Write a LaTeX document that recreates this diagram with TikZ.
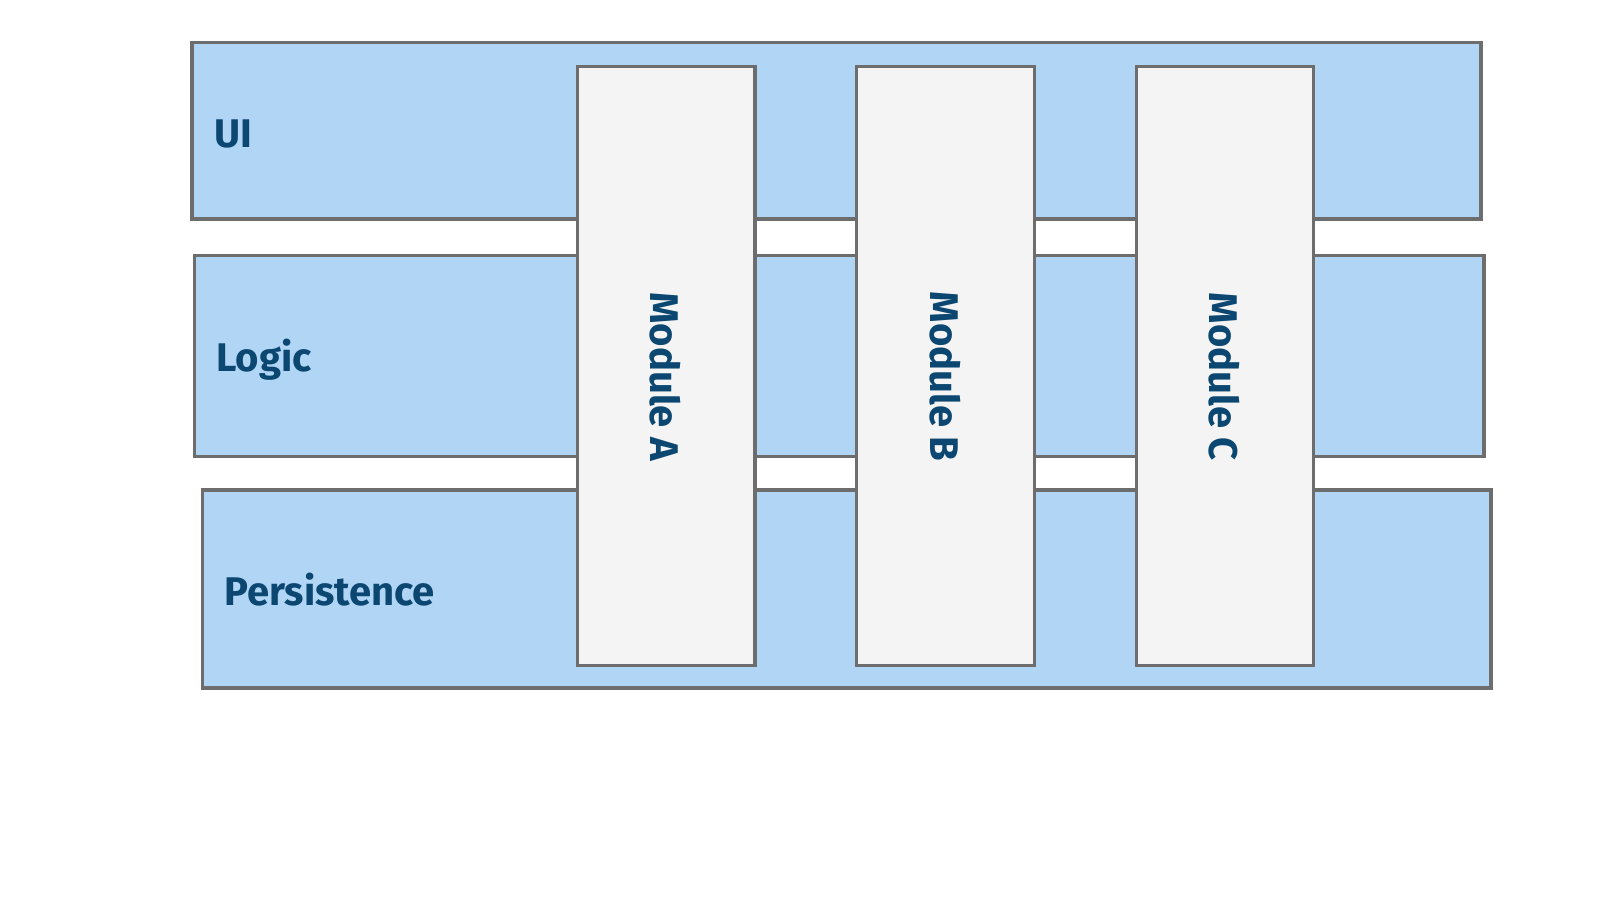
\documentclass[tikz,border=0pt]{standalone}
\usepackage{fontspec}
\setmainfont{Fira Sans}
\definecolor{layerfill}{HTML}{B0D5F5}
\definecolor{modfill}{HTML}{F4F4F4}
\definecolor{edge}{HTML}{6D6D6D}
\definecolor{txt}{HTML}{0B4770}
\tikzset{
  layerbox/.style={draw=edge, fill=layerfill, line width=3.3pt, inner sep=0pt, outer sep=0pt},
  modbox/.style={draw=edge, fill=modfill, line width=3.3pt, inner sep=0pt, outer sep=0pt,
    minimum width=177.5pt, minimum height=599.4pt},
  lab/.style={anchor=base west, inner sep=0pt, text=txt, font=\fontsize{40}{48}\selectfont\bfseries},
  modlab/.style={rotate=-90, inner sep=0pt, text=txt, font=\fontsize{40}{48}\selectfont\bfseries}
}
\begin{document}
\begin{tikzpicture}[x=1pt,y=-1pt]
\useasboundingbox (0,0) rectangle (1600,900);
\fill[white] (0,0) rectangle (1600,900);
\node[layerbox, minimum width=1289pt, minimum height=176.7pt] (ui) at (836.5,130.65) {};
\node[layerbox, minimum width=1289.3pt, minimum height=201pt] (logic) at (839.35,356.2) {};
\node[layerbox, minimum width=1288.7pt, minimum height=198pt] (pers) at (846.65,589) {};
\node[lab] (uil) at (214,147.3) {UI};
\node[lab] (logicl) at (216,371.7) {Logic};
\node[lab] (persl) at (224,605.7) {Persistence};
\node[modbox] (ma) at (666.15,366) {};
\node[modbox] (mb) at (945.5,366) {};
\node[modbox] (mc) at (1224.9,366) {};
\node[modlab] (mal) at (665.5,376.7) {Module A};
\node[modlab] (mbl) at (944.9,376.7) {Module B};
\node[modlab] (mcl) at (1224.3,376.7) {Module C};
\end{tikzpicture}
\end{document}
